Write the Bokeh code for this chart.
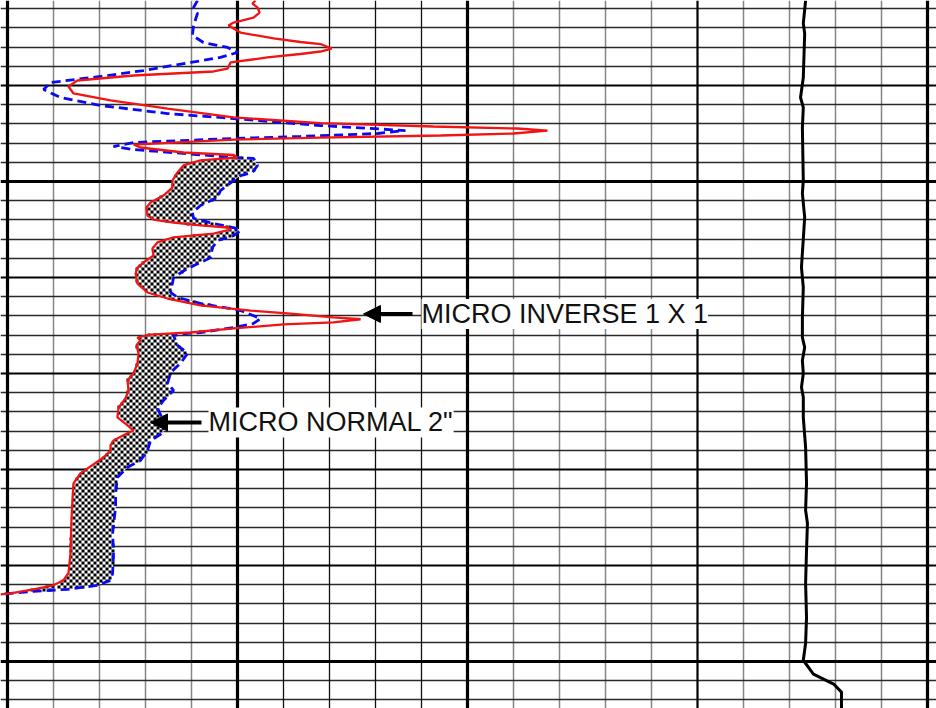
import numpy as np
from bokeh.plotting import figure
from bokeh.models import Range1d, Grid, FixedTicker, Label, Arrow, NormalHead
from bokeh.embed import file_html
from bokeh.resources import INLINE

# Micro inverse 1" x 1" (ohm-m), track 1 scale 0-20 ohm-m over 10 divisions
inv_depth = [4031.15, 4031.46, 4031.88, 4032.40, 4032.92, 4033.44, 4033.75, 4034.48, 4035.10, 4035.47,
             4035.68, 4036.15, 4036.46, 4036.72, 4037.08, 4037.60, 4038.23, 4038.54, 4038.96, 4039.48,
             4040.10, 4040.83, 4041.56, 4042.40, 4043.33, 4043.91, 4044.27, 4044.48, 4044.69, 4045.00,
             4045.21, 4045.42, 4045.63, 4046.15, 4046.46, 4046.98, 4047.24, 4047.50, 4047.81, 4048.33,
             4049.06, 4049.90, 4050.63, 4051.46, 4052.19, 4052.71, 4053.54, 4053.96, 4054.27, 4054.58,
             4054.79, 4055.00, 4055.42, 4055.83, 4056.35, 4056.98, 4057.71, 4058.44, 4058.96, 4059.58,
             4060.63, 4061.56, 4062.19, 4062.90, 4063.44, 4063.73, 4064.15, 4064.35, 4064.67, 4064.88,
             4065.31, 4065.73, 4065.94, 4066.25, 4066.56, 4067.06, 4067.90, 4068.94, 4069.98, 4070.71,
             4071.77, 4072.60, 4073.54, 4074.56, 4075.40, 4075.94, 4076.44, 4076.98, 4077.48, 4078.02,
             4078.75, 4080.40, 4081.44, 4082.90, 4085.31, 4088.73, 4090.81, 4091.54, 4092.06, 4092.48,
             4092.90, 4093.00]
inv_res = [10.78, 10.65, 10.87, 10.96, 10.70, 9.83, 9.61, 10.13, 11.57, 12.74,
           13.61, 14.09, 13.61, 12.74, 11.30, 9.70, 9.57, 8.96, 5.48, 3.04,
           2.65, 2.87, 4.48, 6.96, 9.83, 13.61, 18.52, 22.17, 23.48, 22.00,
           18.83, 13.61, 9.83, 5.48, 5.78, 7.65, 9.83, 10.00, 8.39, 7.65,
           7.39, 7.17, 7.17, 6.78, 6.22, 6.04, 6.09, 6.35, 7.22, 8.39,
           9.57, 9.70, 8.96, 7.22, 6.52, 6.30, 6.35, 5.91, 5.65, 5.57,
           5.65, 6.09, 6.96, 8.39, 10.57, 12.17, 14.17, 15.35, 14.17, 12.00,
           9.83, 7.96, 6.22, 5.65, 5.78, 5.61, 5.70, 5.65, 5.48, 5.22,
           5.26, 5.13, 4.83, 4.78, 5.22, 5.48, 5.04, 4.61, 4.48, 4.48,
           4.17, 3.17, 2.87, 2.83, 2.78, 2.74, 2.65, 2.43, 2.00, 1.13,
           0.13, -0.30]

# Micro normal 2" (ohm-m)
nor_depth = [4031.15, 4031.88, 4032.50, 4033.75, 4034.79, 4035.52, 4036.04, 4036.56, 4037.08, 4037.60,
             4038.44, 4039.06, 4039.69, 4040.42, 4041.25, 4042.08, 4042.92, 4043.44, 4044.17, 4044.69,
             4045.00, 4045.31, 4045.52, 4045.94, 4046.35, 4046.67, 4047.08, 4047.50, 4047.60, 4048.33,
             4049.06, 4049.38, 4049.90, 4050.94, 4051.67, 4052.50, 4053.23, 4053.85, 4054.38, 4054.90,
             4055.10, 4055.63, 4056.15, 4056.88, 4057.92, 4058.44, 4059.06, 4060.00, 4061.56, 4062.08,
             4062.69, 4063.44, 4064.27, 4064.79, 4065.21, 4065.73, 4065.83, 4066.04, 4067.06, 4067.90,
             4068.94, 4069.90, 4071.02, 4071.77, 4072.81, 4073.65, 4074.90, 4076.15, 4076.98, 4078.02,
             4079.06, 4079.77, 4080.81, 4082.48, 4083.94, 4086.65, 4088.73, 4090.81, 4091.54, 4092.06,
             4092.48, 4092.69, 4092.90, 4093.00]
nor_res = [8.26, 8.09, 8.26, 8.09, 8.04, 8.52, 9.57, 10.00, 9.26, 7.96,
           5.91, 4.04, 1.87, 1.57, 2.30, 4.04, 6.96, 9.83, 13.61, 17.30,
           16.09, 12.74, 9.83, 5.48, 4.61, 5.48, 7.65, 9.83, 10.70, 10.87,
           10.65, 10.13, 9.83, 9.26, 9.13, 8.39, 8.04, 8.09, 8.96, 10.00,
           10.13, 9.83, 9.13, 8.91, 8.83, 8.39, 7.83, 7.22, 7.09, 7.39,
           8.39, 10.13, 11.00, 10.70, 9.83, 8.39, 7.83, 7.22, 7.39, 7.83,
           7.52, 7.09, 6.96, 7.22, 6.78, 6.52, 6.78, 6.78, 6.22, 6.09,
           5.78, 5.22, 4.78, 4.70, 4.70, 4.57, 4.61, 4.57, 4.48, 3.91,
           2.61, 1.13, 0.13, -0.30]

# Caliper (inches), track 2 scale 6-16 in over divisions 10-20
cal_depth = [4031.15, 4033.54, 4034.58, 4039.17, 4041.25, 4042.29, 4044.38, 4049.90, 4051.23, 4053.73,
             4058.94, 4061.02, 4064.15, 4066.23, 4067.27, 4068.65, 4070.00, 4071.44, 4072.48, 4074.56,
             4077.69, 4081.44, 4084.25, 4085.60, 4088.42, 4091.85, 4095.40, 4098.10, 4099.87, 4101.31,
             4102.35, 4103.19, 4105.06]
cal_in = [13.35, 13.30, 13.33, 13.30, 13.24, 13.30, 13.28, 13.30, 13.28, 13.33,
          13.26, 13.30, 13.28, 13.28, 13.33, 13.28, 13.30, 13.26, 13.30, 13.30,
          13.35, 13.37, 13.35, 13.39, 13.37, 13.35, 13.37, 13.35, 13.30, 13.52,
          13.96, 14.13, 14.13]

label_inverse = "MICRO INVERSE 1 X 1"
label_normal = "MICRO NORMAL 2\""

# ---------------- scales ----------------
RES_PER_DIV = 2.0     # ohm-m per grid division in track 1
CAL_LEFT = 6.0        # caliper inches at division 10
PX_PER_DIV = 46.0
PX_PER_FT = 9.6
W, H = 936, 708

X0, X1 = (0.0 - 7.0) / PX_PER_DIV, (W - 7.0) / PX_PER_DIV
D_TOP = 4032.0 + (0.0 - 8.2) / PX_PER_FT
D_BOT = 4032.0 + (H - 8.2) / PX_PER_FT

inv_x = np.asarray(inv_res) / RES_PER_DIV
nor_x = np.asarray(nor_res) / RES_PER_DIV
cal_x = 10.0 + (np.asarray(cal_in) - CAL_LEFT)

p = figure(width=W, height=H, x_range=Range1d(X0, X1), y_range=Range1d(D_BOT, D_TOP),
           output_backend="svg", toolbar_location=None, min_border=0,
           x_axis_location=None, y_axis_location=None)
p.outline_line_color = None
p.background_fill_color = "white"
p.border_fill_color = "white"
p.xgrid.visible = False
p.ygrid.visible = False


def add_grid(dim, ticks, color, width):
    g = Grid(dimension=dim, ticker=FixedTicker(ticks=list(ticks)),
             grid_line_color=color, grid_line_width=width)
    p.add_layout(g)


gray_v = [1, 2, 3, 4, 11, 12, 13, 14, 16, 17, 18, 19]
black_v = [6, 7, 8, 9]
thick_v = [0, 5, 10, 20]
med_v = [15]

depth_lines = [4032 + 2 * k for k in range(37)]
thin_h = [d for d in depth_lines if d % 10 != 0]
med_h = [d for d in depth_lines if d % 10 == 0 and d % 50 != 0]
thick_h = [d for d in depth_lines if d % 50 == 0]

add_grid(0, gray_v, "#858585", 1.5)
add_grid(1, thin_h, "#2a2a2a", 1.3)
add_grid(0, black_v, "#111111", 1.3)
add_grid(1, med_h, "#000000", 2.2)
add_grid(0, med_v, "#000000", 2.2)
add_grid(1, thick_h, "#000000", 3.2)
add_grid(0, thick_v, "#000000", 3.2)

# ---------------- separation fill (checkered) ----------------
dgrid = np.linspace(4045.0, 4093.0, 1200)
r_g = np.interp(dgrid, inv_depth, inv_x)
b_g = np.interp(dgrid, nor_depth, nor_x)
p.harea(x1=r_g, x2=np.maximum(r_g, b_g), y=dgrid, fill_color="white")

CELL = 3.0
dx = CELL / PX_PER_DIV
dy = CELL / PX_PER_FT
xs_left = X0 + dx * np.arange(int((8.0 - X0) / dx))
xc = xs_left + dx / 2
idx = np.arange(len(xs_left))
ys_top = D_TOP + dy * np.arange(int((4093.5 - D_TOP) / dy))
L, R, T, B = [], [], [], []
for j, yt in enumerate(ys_top):
    yc = yt + dy / 2
    r = np.interp(yc, inv_depth, inv_x)
    b = np.interp(yc, nor_depth, nor_x)
    if b <= r:
        continue
    sel = (xc >= r) & (xc <= b) & (((idx + j) % 2) == 0)
    n = int(sel.sum())
    L.extend(xs_left[sel].tolist())
    R.extend((xs_left[sel] + dx).tolist())
    T.extend([yt] * n)
    B.extend([yt + dy] * n)
p.quad(left=L, right=R, top=T, bottom=B, fill_color="black", line_color=None)

# ---------------- curves ----------------
p.line(nor_x, nor_depth, line_color="#0a0af0", line_width=2.8, line_dash="9 5")
p.line(inv_x, inv_depth, line_color="#f01414", line_width=2.3)
p.line(cal_x, cal_depth, line_color="black", line_width=3.0)

# ---------------- annotations ----------------
y_inv = 4063.8
y_nor = 4075.1
p.add_layout(Arrow(end=NormalHead(size=17, fill_color="black", line_color="black", line_width=1),
                   x_start=(412 - 7) / PX_PER_DIV, y_start=y_inv,
                   x_end=(363 - 7) / PX_PER_DIV, y_end=y_inv,
                   line_color="black", line_width=4))
p.add_layout(Arrow(end=NormalHead(size=17, fill_color="black", line_color="black", line_width=1),
                   x_start=(201 - 7) / PX_PER_DIV, y_start=y_nor,
                   x_end=(150 - 7) / PX_PER_DIV, y_end=y_nor,
                   line_color="black", line_width=4))
p.add_layout(Label(x=9.0, y=y_inv, text=label_inverse, text_font="Liberation Sans",
                   text_font_size="27px", text_baseline="middle", text_align="left",
                   text_color="#111111", background_fill_color="white"))
p.add_layout(Label(x=(208 - 7) / PX_PER_DIV, y=y_nor, text=label_normal, text_font="Liberation Sans",
                   text_font_size="27px", text_baseline="middle", text_align="left",
                   text_color="#111111", background_fill_color="white"))

open("out.html", "w").write(file_html(p, INLINE))
